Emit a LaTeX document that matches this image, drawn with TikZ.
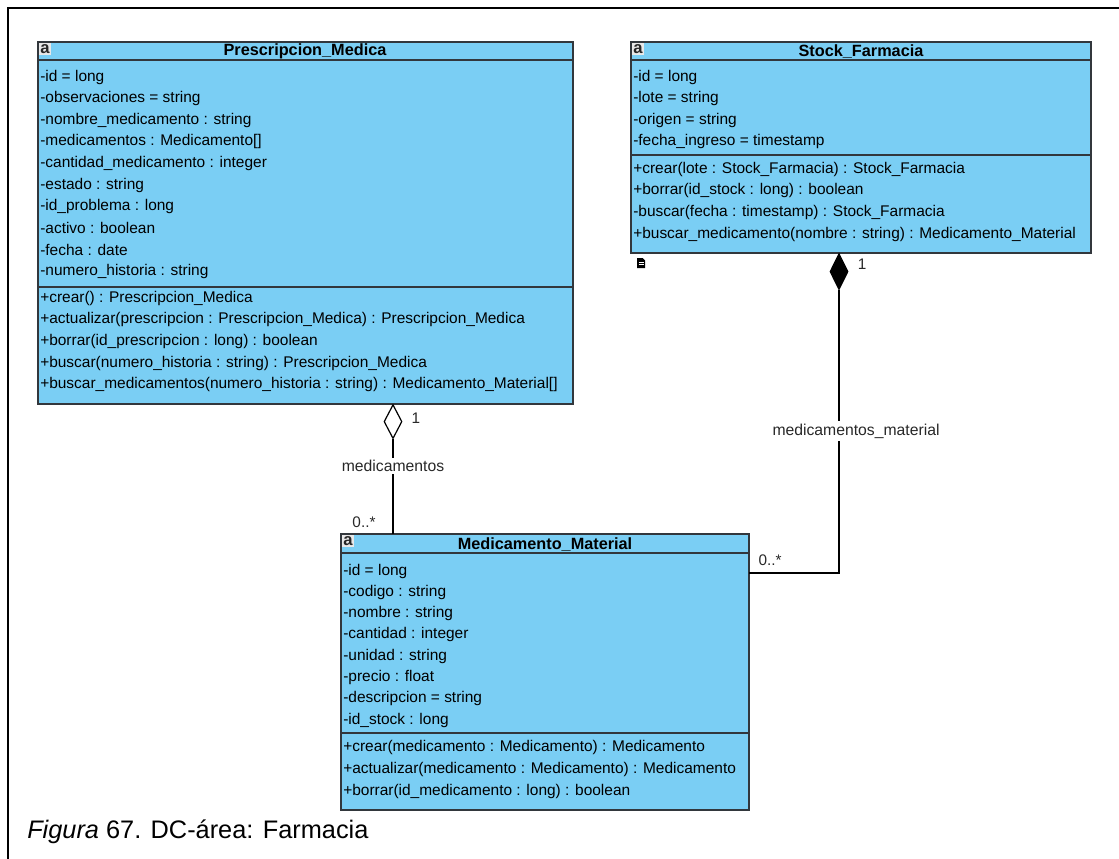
\documentclass[tikz,border=0pt]{standalone}
\usepackage{fontspec}
\setmainfont{Liberation Sans}
\usetikzlibrary{shapes.geometric,calc}
\definecolor{clsfill}{RGB}{122,206,244}
\definecolor{clsline}{RGB}{50,55,60}
\definecolor{lbl}{RGB}{40,40,40}
\tikzset{
  classbox/.style={draw=clsline, line width=1.2pt, fill=clsfill, anchor=north west, inner sep=0pt, minimum width=#1},
  attr/.style={anchor=west, inner sep=0pt, font=\fontsize{11.6}{13}\selectfont, text=black},
  title/.style={inner sep=0pt, font=\bfseries\fontsize{12.2}{14}\selectfont, text=black},
  aicon/.style={anchor=north west, inner sep=0.4pt, fill=white!82!gray, minimum width=8.5pt, minimum height=9pt, font=\bfseries\fontsize{12.5}{12}\selectfont, text=black!85},
  sep/.style={draw=clsline, line width=1.2pt},
  conn/.style={draw=black, line width=0.9pt},
  mult/.style={inner sep=1pt, font=\fontsize{11.5}{13}\selectfont, text=lbl},
  rolelbl/.style={inner sep=2pt, fill=white, font=\fontsize{11.8}{13}\selectfont, text=lbl},
}
\begin{document}
\begin{tikzpicture}[x=0.75pt,y=-0.75pt]
\useasboundingbox (0,0) rectangle (1119,858);
% frame
\draw[line width=1.6pt, line cap=rect] (8,858) -- (8,8) -- (1119,8);

% ---------- Prescripcion_Medica ----------
\path[classbox] (38,42) rectangle (573,404);
\node[classbox, minimum width=535*0.75pt, minimum height=362*0.75pt, fill=none, draw=none] (pm) at (38,42) {};
\draw[sep] (38,60) -- (573,60);
\draw[sep] (38,287) -- (573,287);
\node[aicon] (pmicon) at (39,42.8) {a};
\node[title] (pmt) at (305,51.5) {Prescripcion\_Medica};
\foreach \t [count=\i from 0] in {
 -id = long,
 -observaciones = string,
 -nombre\_medicamento : string,
 -medicamentos : Medicamento[],
 -cantidad\_medicamento : integer,
 -estado : string,
 -id\_problema : long,
 -activo : boolean,
 -fecha : date,
 -numero\_historia : string}
 \node[attr] (pma\i) at (40,{77+21.6*\i}) {\t};
\foreach \t [count=\i from 0] in {
 +crear() : Prescripcion\_Medica,
 +actualizar(prescripcion : Prescripcion\_Medica) : Prescripcion\_Medica,
 +borrar(id\_prescripcion : long) : boolean,
 +buscar(numero\_historia : string) : Prescripcion\_Medica,
 +buscar\_medicamentos(numero\_historia : string) : Medicamento\_Material[]}
 \node[attr] (pmm\i) at (40,{298+21.7*\i}) {\t};

% ---------- Stock_Farmacia ----------
\path[classbox] (631,42) rectangle (1091,253);
\node[classbox, minimum width=460*0.75pt, minimum height=211*0.75pt, fill=none, draw=none] (sf) at (631,42) {};
\draw[sep] (631,60) -- (1091,60);
\draw[sep] (631,155) -- (1091,155);
\node[aicon] (sficon) at (632,42.8) {a};
\node[title] (sft) at (861,51.5) {Stock\_Farmacia};
\foreach \t [count=\i from 0] in {
 -id = long,
 -lote = string,
 -origen = string,
 -fecha\_ingreso = timestamp}
 \node[attr] (sfa\i) at (633,{77+21.6*\i}) {\t};
\foreach \t [count=\i from 0] in {
 +crear(lote : Stock\_Farmacia) : Stock\_Farmacia,
 +borrar(id\_stock : long) : boolean,
 -buscar(fecha : timestamp) : Stock\_Farmacia,
 +buscar\_medicamento(nombre : string) : Medicamento\_Material}
 \node[attr] (sfm\i) at (633,{169+21.7*\i}) {\t};
% small note icon
\node[inner sep=0pt] (sfnote) at (641,263) {};
\fill[black] (637,258) -- (642.5,258) -- (645,260.5) -- (645,268) -- (637,268) -- cycle;
\draw[white, line width=0.4pt] (638.5,262) -- (643.5,262) (638.5,264.5) -- (643.5,264.5);

% ---------- Medicamento_Material ----------
\path[classbox] (341,534) rectangle (749,810);
\node[classbox, minimum width=408*0.75pt, minimum height=276*0.75pt, fill=none, draw=none] (mm) at (341,534) {};
\draw[sep] (341,553) -- (749,553);
\draw[sep] (341,733) -- (749,733);
\node[aicon] (mmicon) at (342,534.8) {a};
\node[title] (mmt) at (545,544.5) {Medicamento\_Material};
\foreach \t [count=\i from 0] in {
 -id = long,
 -codigo : string,
 -nombre : string,
 -cantidad : integer,
 -unidad : string,
 -precio : float,
 -descripcion = string,
 -id\_stock : long}
 \node[attr] (mma\i) at (343,{571+21.3*\i}) {\t};
\foreach \t [count=\i from 0] in {
 +crear(medicamento : Medicamento) : Medicamento,
 +actualizar(medicamento : Medicamento) : Medicamento,
 +borrar(id\_medicamento : long) : boolean}
 \node[attr] (mmm\i) at (343,{747+22*\i}) {\t};

% ---------- aggregation ----------
\coordinate (aggtop) at (393,404);
\coordinate (aggbot) at (393,534);
\node[diamond, draw=black, line width=0.9pt, fill=white, minimum width=18*0.75pt, minimum height=34*0.75pt, inner sep=0pt, anchor=north] (aggd) at (aggtop) {};
\draw[conn] (aggd.south) -- (aggbot);
\node[rolelbl] (aggl) at (393,466) {medicamentos};
\node[mult] (aggm1) at (416,418) {1};
\node[mult] (aggm2) at (364,522) {0..*};

% ---------- composition ----------
\coordinate (comptop) at (839,253);
\coordinate (compturn) at (839,573);
\coordinate (compend) at (749,573);
\node[diamond, draw=black, line width=0.9pt, fill=black, minimum width=18*0.75pt, minimum height=36*0.75pt, inner sep=0pt, anchor=north] (compd) at (comptop) {};
\draw[conn] (compd.south) -- (compturn) -- (compend);
\node[rolelbl] (compl) at (856,431) {medicamentos\_material};
\node[mult] (compm1) at (862,264) {1};
\node[mult] (compm2) at (770,560) {0..*};

% ---------- caption ----------
\node[anchor=west, inner sep=0pt, font=\fontsize{19}{22}\selectfont] (cap) at (27,832) {\textit{Figura} 67. DC-área: Farmacia};
\end{tikzpicture}
\end{document}
